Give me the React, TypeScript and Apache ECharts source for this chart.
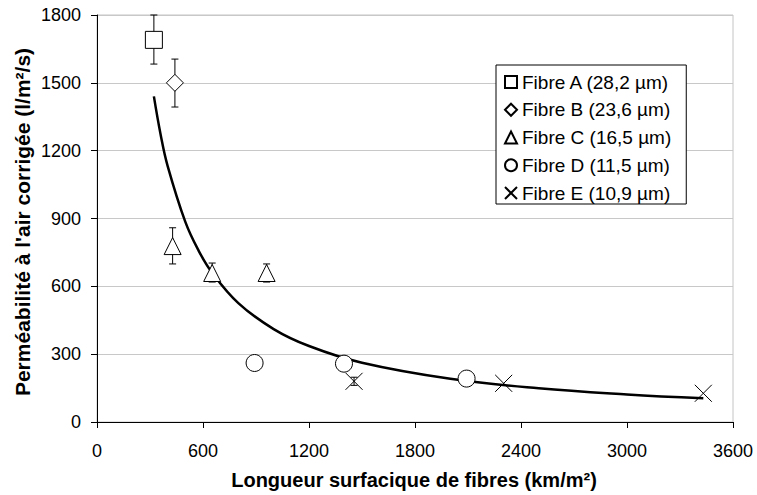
import React, { useEffect, useRef } from "react";
import * as echarts from "echarts";

// Data
const fibreA: number[][] = [[322, 1690]];
const fibreB: number[][] = [[441, 1500]];
const fibreC: number[][] = [[428, 778], [652, 659], [960, 659]];
const fibreD: number[][] = [[892, 261], [1398, 258], [2092, 192]];
const fibreE: number[][] = [[1455, 180], [2302, 171], [3432, 127]];

// Error bars: [x, low, high]
const errorBars: number[][] = [
  [322, 1583, 1800],
  [441, 1393, 1605],
  [428, 699, 859],
  [652, 619, 703],
  [960, 619, 699],
  [1455, 162, 198],
];

// Power trend line
const trendX: number[] = [322, 360, 400, 500, 575, 650, 800, 1000, 1200, 1500, 2000, 2500, 3000, 3432];
const trendY: number[] = [1440, 1272, 1132, 885, 758, 662, 526, 411, 336, 262, 191, 149, 122, 105];

const seriesNames: string[] = [
  "Fibre A (28,2 µm)",
  "Fibre B (23,6 µm)",
  "Fibre C (16,5 µm)",
  "Fibre D (11,5 µm)",
  "Fibre E (10,9 µm)",
];

const xTicks = { min: 0, max: 3600, interval: 600 };
const yTicks = { min: 0, max: 1800, interval: 300 };

const FONT = "'Liberation Sans', Arial, Helvetica, sans-serif";
const crossPath = "path://M0,0L10,10M10,0L0,10";

export default function App() {
  const ref = useRef<HTMLDivElement>(null);
  useEffect(() => {
    if (!ref.current) return;
    const chart = echarts.init(ref.current, null, { renderer: "svg" });
    const markerStyle = { color: "#ffffff", borderColor: "#000000", borderWidth: 1, opacity: 1 };
    const scatter = (name: string, data: number[][], symbol: string) => ({
      name,
      type: "scatter",
      data,
      symbol,
      symbolSize: 17,
      itemStyle: markerStyle,
      emphasis: { disabled: true },
      z: 5,
    });
    const option: any = {
      animation: false,
      backgroundColor: "#ffffff",
      textStyle: { fontFamily: FONT },
      grid: {
        left: 97,
        right: 24,
        top: 15,
        bottom: 73,
        show: true,
        borderColor: "#c4c4c4",
        borderWidth: 1,
        backgroundColor: "transparent",
      },
      xAxis: {
        type: "value",
        min: xTicks.min,
        max: xTicks.max,
        interval: xTicks.interval,
        axisLine: { show: true, onZero: false, lineStyle: { color: "#000", width: 1 } },
        axisTick: { show: true, length: 6, lineStyle: { color: "#000" } },
        splitLine: { show: false },
        axisLabel: {
          color: "#000",
          fontSize: 18,
          fontFamily: FONT,
          margin: 20,
          formatter: (v: number) => String(v),
        },
      },
      yAxis: {
        type: "value",
        min: yTicks.min,
        max: yTicks.max,
        interval: yTicks.interval,
        axisLine: { show: true, onZero: false, lineStyle: { color: "#000", width: 1 } },
        axisTick: { show: true, length: 6, lineStyle: { color: "#000" } },
        splitLine: { show: true, lineStyle: { color: "#c8c8c8", width: 1 } },
        axisLabel: {
          color: "#000",
          fontSize: 18,
          fontFamily: FONT,
          margin: 16,
          formatter: (v: number) => String(v),
        },
      },
      legend: {
        orient: "vertical",
        left: 496,
        top: 65,
        data: seriesNames,
        itemWidth: 12,
        itemHeight: 12,
        itemGap: 7.75,
        padding: [7, 15, 1, 8],
        borderColor: "#000",
        borderWidth: 1,
        backgroundColor: "#fff",
        borderRadius: 0,
        textStyle: { color: "#000", fontSize: 19, fontFamily: FONT, lineHeight: 20 },
        selectedMode: false,
      },
      series: [
        {
          name: "err",
          type: "custom",
          z: 2,
          data: errorBars,
          encode: { x: 0, y: [1, 2] },
          renderItem: (params: any, api: any) => {
            const x = api.value(0);
            const lo = api.coord([x, api.value(1)]);
            const hi = api.coord([x, api.value(2)]);
            const hw = 3.5;
            const st = { stroke: "#000", lineWidth: 1 };
            return {
              type: "group",
              children: [
                { type: "line", shape: { x1: lo[0], y1: lo[1], x2: hi[0], y2: hi[1] }, style: st },
                { type: "line", shape: { x1: lo[0] - hw, y1: lo[1], x2: lo[0] + hw, y2: lo[1] }, style: st },
                { type: "line", shape: { x1: hi[0] - hw, y1: hi[1], x2: hi[0] + hw, y2: hi[1] }, style: st },
              ],
            };
          },
        },
        {
          name: "trend",
          type: "line",
          data: trendX.map((x, i) => [x, trendY[i]]),
          smooth: 0.4,
          showSymbol: false,
          symbol: "none",
          lineStyle: { color: "#000", width: 2.5 },
          emphasis: { disabled: true },
          z: 3,
        },
        scatter(seriesNames[0], fibreA, "rect"),
        scatter(seriesNames[1], fibreB, "diamond"),
        scatter(seriesNames[2], fibreC, "triangle"),
        scatter(seriesNames[3], fibreD, "circle"),
        scatter(seriesNames[4], fibreE, crossPath),
      ],
      graphic: [
        {
          type: "text",
          x: 22,
          y: 222,
          rotation: Math.PI / 2,
          style: {
            text: "Perméabilité à l'air corrigée (l/m²/s)",
            font: `bold 21px ${FONT}`,
            fill: "#000",
            textAlign: "center",
            textVerticalAlign: "middle",
          },
        },
        {
          type: "text",
          x: 414,
          y: 480,
          style: {
            text: "Longueur surfacique de fibres (km/m²)",
            font: `bold 20px ${FONT}`,
            fill: "#000",
            textAlign: "center",
            textVerticalAlign: "middle",
          },
        },
      ],
    };
    chart.setOption(option);
    return () => chart.dispose();
  }, []);
  return <div ref={ref} style={{ width: 757, height: 495, position: "absolute", left: 0, top: 0 }} />;
}
